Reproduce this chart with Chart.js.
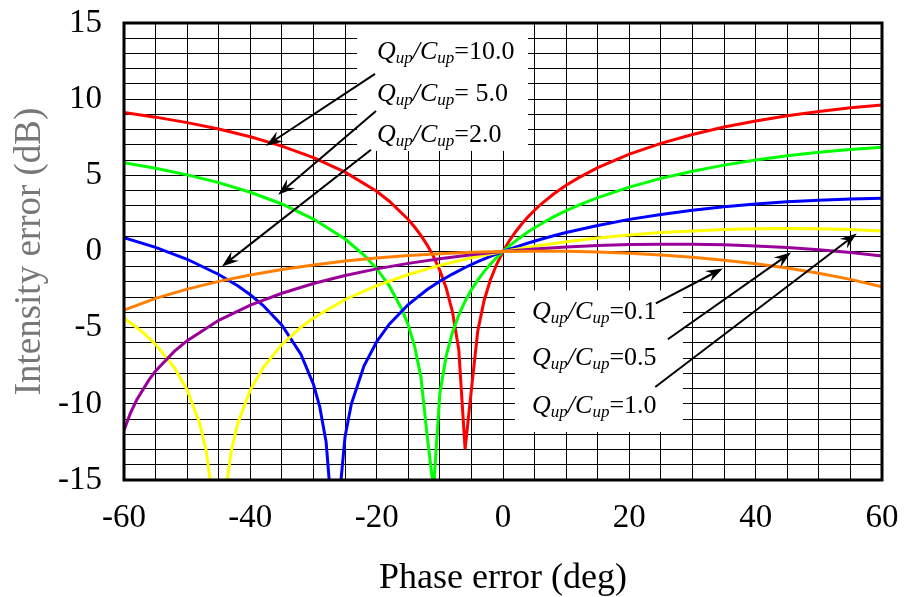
<!DOCTYPE html>
<html>
<head>
<meta charset="utf-8">
<script src="https://cdn.jsdelivr.net/npm/chart.js@4.4.0/dist/chart.umd.min.js"></script>
<style>
  html, body { margin: 0; padding: 0; background: #fff; }
  #wrap { width: 904px; height: 597px; position: relative; }
</style>
</head>
<body>
<div id="wrap"><canvas id="chart"></canvas></div>
<script>
// values: phase error (deg) -> intensity error (dB)
const ratioLabels = ['=10.0', '= 5.0', '=2.0', '=1.0', '=0.5', '=0.1'];
const curveColors = ['#ff0000', '#00ff00', '#0000ff', '#ffff00', '#990099', '#ff8000'];

// Q/C = 10.0
const r10x = [-60, -55, -50, -45, -40, -35, -30, -25, -20, -18, -15, -14, -13, -12, -11, -10, -9, -8, -7, -6, -5, -4, -3, -2, -1, 0, 1, 2, 3, 4, 5, 6, 8, 10, 12, 15, 20, 25, 30, 35, 40, 45, 50, 55, 60];
const r10y = [9.12, 8.82, 8.46, 8.04, 7.53, 6.92, 6.16, 5.21, 3.95, 3.30, 2.10, 1.61, 1.06, 0.42, -0.33, -1.24, -2.39, -3.96, -6.45, -12.97, -9.06, -5.23, -3.23, -1.87, -0.84, 0, 0.70, 1.30, 1.82, 2.29, 2.71, 3.10, 3.77, 4.35, 4.85, 5.51, 6.39, 7.10, 7.68, 8.17, 8.57, 8.91, 9.19, 9.43, 9.62];

// Q/C = 5.0
const r5x = [-60, -55, -50, -45, -40, -35, -30, -25, -22, -20, -18, -16, -15, -14, -13, -12, -11, -10, -9, -8, -7, -6, -5, -4, -3, -2, -1, 0, 1, 2, 3, 4, 5, 6, 8, 10, 12, 15, 20, 25, 30, 35, 40, 45, 50, 55, 60];
const r5y = [5.83, 5.47, 5.03, 4.52, 3.89, 3.12, 2.13, 0.82, -0.24, -1.13, -2.26, -3.80, -4.84, -6.21, -8.22, -12.12, -15.59, -9.33, -6.87, -5.31, -4.17, -3.26, -2.52, -1.88, -1.32, -0.84, -0.40, 0, 0.36, 0.70, 1.00, 1.29, 1.56, 1.81, 2.27, 2.68, 3.05, 3.54, 4.23, 4.80, 5.27, 5.67, 6.00, 6.28, 6.51, 6.69, 6.84];

// Q/C = 2.0
const r2x = [-60, -55, -50, -45, -42, -40, -38, -35, -32, -30, -29, -28, -27, -26, -25, -24, -22, -20, -18, -15, -12, -10, -8, -6, -4, -2, 0, 2, 4, 6, 8, 10, 15, 20, 25, 30, 35, 40, 45, 50, 55, 60];
const r2y = [0.91, 0.27, -0.51, -1.51, -2.25, -2.84, -3.53, -4.84, -6.74, -8.73, -10.22, -12.51, -17.7, -16.58, -12.14, -10.00, -7.50, -5.92, -4.77, -3.48, -2.50, -1.95, -1.48, -1.05, -0.67, -0.32, 0, 0.29, 0.56, 0.80, 1.03, 1.25, 1.71, 2.11, 2.43, 2.71, 2.94, 3.12, 3.27, 3.37, 3.45, 3.49];

// Q/C = 1.0
const r1x = [-60, -57, -55, -52, -50, -48, -47, -46, -44, -43, -42, -40, -38, -35, -32, -30, -25, -20, -15, -10, -5, 0, 5, 10, 15, 20, 25, 30, 35, 40, 45, 50, 55, 60];
const r1y = [-4.37, -5.31, -6.10, -7.64, -9.09, -11.31, -13.06, -16.09, -16.09, -13.06, -11.31, -9.09, -7.64, -6.10, -4.97, -4.37, -3.15, -2.24, -1.51, -0.91, -0.41, 0, 0.35, 0.64, 0.88, 1.08, 1.24, 1.35, 1.44, 1.49, 1.51, 1.49, 1.44, 1.35];

// Q/C = 0.5
const r05x = [-60, -59, -58, -56, -55, -52, -50, -45, -40, -35, -30, -25, -20, -15, -10, -5, 0, 5, 10, 15, 20, 25, 30, 35, 40, 45, 50, 55, 60];
const r05y = [-11.74, -10.63, -9.75, -8.40, -7.85, -6.54, -5.85, -4.52, -3.52, -2.74, -2.10, -1.58, -1.14, -0.78, -0.47, -0.21, 0, 0.17, 0.30, 0.40, 0.46, 0.48, 0.48, 0.44, 0.36, 0.26, 0.11, -0.07, -0.30];

// Q/C = 0.1
const r01x = [-60, -55, -50, -45, -40, -35, -30, -25, -20, -15, -10, -5, 0, 5, 10, 15, 20, 25, 30, 35, 40, 45, 50, 55, 60];
const r01y = [-3.84, -3.08, -2.47, -1.96, -1.54, -1.18, -0.88, -0.63, -0.43, -0.27, -0.14, -0.05, 0, 0.02, 0.01, -0.04, -0.11, -0.23, -0.38, -0.57, -0.81, -1.09, -1.43, -1.83, -2.32];

const seriesX = [r10x, r5x, r2x, r1x, r05x, r01x];
const seriesY = [r10y, r5y, r2y, r1y, r05y, r01y];

// annotation layout, in axis units
const boxes = [[-23.1, 3.96, 15, 6.6], [1.9, 28.5, -2.55, -11.85]];
const labelSpots = [[-19.95, 12.62], [-19.95, 9.89], [-19.95, 7.16], [4.6, -10.63], [4.6, -7.47], [4.6, -4.41]];
const arrowLines = [
  [-20.26, 11.66, -37.52, 6.94],
  [-20.1, 9.23, -35.6, 3.73],
  [-20.9, 6.68, -44.5, -0.98],
  [24.1, -8.9, 56.0, 1.18],
  [26.1, -5.76, 45.6, -0.07],
  [24.2, -3.41, 34.8, -1.11]
];

const serif = "'Liberation Serif', 'Times New Roman', serif";

function pts(xs, ys) {
  return xs.map((v, i) => ({ x: v, y: ys[i] }));
}

function drawLabel(ctx, px, py, tail) {
  const f = 26, s = 17;
  let cx = px;
  const put = (txt, style, size, dy) => {
    ctx.font = style + ' ' + size + 'px ' + serif;
    ctx.fillText(txt, cx, py + dy);
    cx += ctx.measureText(txt).width;
  };
  put('Q', 'italic', f, 0);
  put('up', 'italic', s, 4);
  put('/', 'italic', f, 0);
  put('C', 'italic', f, 0);
  put('up', 'italic', s, 4);
  put(tail, 'normal', f, 0);
}

function drawArrow(ctx, x0, y0, x1, y1) {
  const a = Math.atan2(y1 - y0, x1 - x0);
  const len = 17, half = 6, notch = 11;
  ctx.beginPath();
  ctx.moveTo(x0, y0);
  ctx.lineTo(x1 - Math.cos(a) * notch, y1 - Math.sin(a) * notch);
  ctx.stroke();
  const bx = x1 - Math.cos(a) * len, by = y1 - Math.sin(a) * len;
  const nx = -Math.sin(a), ny = Math.cos(a);
  ctx.beginPath();
  ctx.moveTo(x1, y1);
  ctx.lineTo(bx + nx * half, by + ny * half);
  ctx.lineTo(x1 - Math.cos(a) * notch, y1 - Math.sin(a) * notch);
  ctx.lineTo(bx - nx * half, by - ny * half);
  ctx.closePath();
  ctx.fill();
}

const annotate = {
  id: 'annotate',
  beforeDatasetsDraw(chart) {
    const { ctx, scales: { x, y } } = chart;
    ctx.save();
    ctx.fillStyle = '#fff';
    boxes.forEach(b => {
      const x0 = x.getPixelForValue(b[0]), x1 = x.getPixelForValue(b[1]);
      const y0 = y.getPixelForValue(b[2]), y1 = y.getPixelForValue(b[3]);
      ctx.fillRect(x0, y0, x1 - x0, y1 - y0);
    });
    ctx.restore();
  },
  afterDatasetsDraw(chart) {
    const { ctx, scales: { x, y } } = chart;
    ctx.save();
    ctx.strokeStyle = '#000';
    ctx.fillStyle = '#000';
    ctx.lineWidth = 2;
    arrowLines.forEach(l => {
      drawArrow(ctx, x.getPixelForValue(l[0]), y.getPixelForValue(l[1]),
                x.getPixelForValue(l[2]), y.getPixelForValue(l[3]));
    });
    ctx.textBaseline = 'alphabetic';
    ctx.textAlign = 'left';
    labelSpots.forEach((p, i) => {
      drawLabel(ctx, x.getPixelForValue(p[0]), y.getPixelForValue(p[1]), ratioLabels[i]);
    });
    ctx.restore();
  },
  afterDraw(chart) {
    const { ctx, chartArea: a } = chart;
    ctx.save();
    ctx.strokeStyle = '#000';
    ctx.lineWidth = 3;
    ctx.strokeRect(a.left, a.top, a.right - a.left, a.bottom - a.top);
    ctx.restore();
  }
};

new Chart(document.getElementById('chart'), {
  type: 'line',
  data: {
    datasets: seriesX.map((xs, i) => ({
      label: 'Q/C' + ratioLabels[i],
      data: pts(xs, seriesY[i]),
      borderColor: curveColors[i],
      borderWidth: 3,
      pointRadius: 0,
      tension: 0,
      fill: false,
      clip: 0,
      order: 5 - i
    }))
  },
  options: {
    responsive: true,
    maintainAspectRatio: false,
    animation: false,
    layout: { padding: { top: 23, right: 22, left: 0, bottom: 0 } },
    plugins: { legend: { display: false }, tooltip: { enabled: false } },
    scales: {
      x: {
        type: 'linear', min: -60, max: 60,
        grid: { color: '#000', lineWidth: 1, drawTicks: false },
        border: { display: false },
        ticks: {
          stepSize: 5, autoSkip: false, maxRotation: 0, padding: 19, color: '#000',
          font: { family: serif, size: 33 },
          callback: v => (v % 20 === 0 ? String(v) : '')
        },
        title: {
          display: true, text: 'Phase error (deg)', color: '#000',
          font: { family: serif, size: 36, lineHeight: 1.05 }, padding: { top: 0, bottom: 0 }
        },
        afterFit: s => { s.height = 117; s.paddingLeft = 0; s.paddingRight = 0; }
      },
      y: {
        min: -15, max: 15,
        grid: { color: '#000', lineWidth: 1, drawTicks: false },
        border: { display: false },
        ticks: {
          stepSize: 1, autoSkip: false, padding: 22, color: '#000',
          font: { family: serif, size: 33 },
          callback: v => (v % 5 === 0 ? String(v) : '')
        },
        title: {
          display: true, text: 'Intensity error (dB)', color: '#777',
          font: { family: serif, size: 37 }, padding: { top: 8, bottom: 0 }
        },
        afterFit: s => { s.width = 124; s.paddingTop = 0; s.paddingBottom = 0; }
      }
    }
  },
  plugins: [annotate]
});
</script>
</body>
</html>
